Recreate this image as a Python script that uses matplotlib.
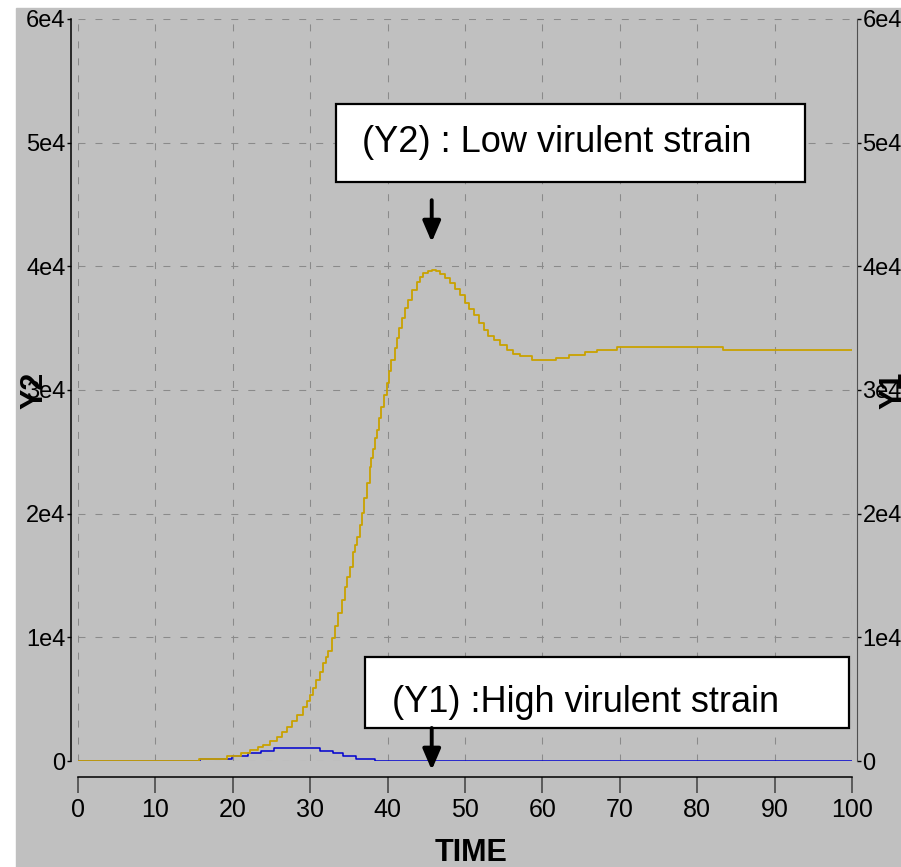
import matplotlib
matplotlib.use("Agg")
import matplotlib.pyplot as plt
from matplotlib.patches import Rectangle

plt.rcParams["font.family"] = ["Liberation Sans Narrow", "Liberation Sans", "DejaVu Sans"]

# axis ticks
x_ticks = [0, 10, 20, 30, 40, 50, 60, 70, 80, 90, 100]
y_ticks = [0, 10000, 20000, 30000, 40000, 50000, 60000]
y_tick_labels = ["0", "1e4", "2e4", "3e4", "4e4", "5e4", "6e4"]

# Y1 : high virulent strain (step values)
y1_time = [0, 15.7, 19.9, 22.0, 23.7, 25.3, 31.3, 32.9, 34.3, 35.9, 38.4, 100]
y1_value = [0, 190, 400, 620, 830, 1060, 830, 620, 400, 190, 0, 0]

# Y2 : low virulent strain
y2_time = [0, 15.6, 19.3, 21.0, 22.2, 23.3, 23.9, 24.8, 25.7, 26.4, 27.0, 27.7,
           28.3, 29.1, 29.6, 30.0, 30.4, 30.8, 31.3, 31.7, 32.0, 32.3, 32.8, 33.2,
           33.6, 34.1, 34.5, 34.8, 35.1, 35.5, 35.8, 36.0, 36.4, 36.7, 37.0, 37.3,
           37.7, 37.9, 38.1, 38.4, 38.6, 38.9, 39.2, 39.5, 39.9, 40.2, 40.5, 40.9,
           41.2, 41.5, 41.8, 42.2, 42.7, 43.2, 43.8, 44.2, 44.6, 45.2, 45.7, 46.3,
           46.8, 47.4, 48.1, 48.7, 49.4, 50.0, 50.5, 51.1, 51.8, 52.4, 53.0, 53.7,
           54.5, 55.4, 56.2, 57.1, 58.6, 61.8, 63.5, 65.5, 67.1, 69.6, 83.3, 100]
y2_value = [0, 160, 400, 620, 890, 1160, 1290, 1600, 1960, 2350, 2770, 3230,
            3720, 4390, 4850, 5340, 5900, 6550, 7200, 7900, 8400, 8900, 9920, 10900,
            11940, 13000, 14090, 14900, 15710, 16900, 17500, 18130, 19100, 20070, 21240, 22450,
            23800, 24500, 25200, 26100, 26760, 27700, 28640, 29600, 30530, 31500, 32420, 33400,
            34170, 35000, 35790, 36600, 37270, 38050, 38750, 39150, 39480, 39600, 39690, 39600,
            39420, 39050, 38620, 38150, 37670, 37000, 36550, 36050, 35400, 34840, 34400, 34030,
            33600, 33230, 32950, 32740, 32420, 32600, 32820, 33040, 33250, 33470, 33250, 33250]

arrow_time = 45.7

fig = plt.figure(figsize=(9.01, 8.67), dpi=100)
fig.patches.append(Rectangle((16 / 901, 0), 1 - 16 / 901, 859 / 867,
                             transform=fig.transFigure, color="#c0c0c0", zorder=-5))

ax = fig.add_axes([78 / 901, 106 / 867, 774 / 901, 742 / 867])
ax.set_facecolor("none")

ax.plot(y1_time, y1_value, drawstyle="steps-post", color="#0000d0", lw=1.1, zorder=3)
ax.plot(y2_time, y2_value, drawstyle="steps-post", color="#c9a200", lw=1.3, zorder=4)

ax.set_xlim(0, 100)
ax.set_ylim(0, 60000)
ax.set_xticks(x_ticks)
ax.set_xticklabels([str(t) for t in x_ticks])
ax.set_yticks(y_ticks)
ax.set_yticklabels(y_tick_labels)

ax.grid(True, color="#8a8a8a", lw=0.75, linestyle=(0, (6.7, 9.6)))
ax.set_axisbelow(True)

ax.spines["top"].set_visible(False)
ax.spines["left"].set_position(("outward", 5))
ax.spines["bottom"].set_position(("outward", 11.5))
ax.spines["right"].set_position(("outward", 3.6))
ax.spines["left"].set_bounds(0, 60000)
ax.spines["bottom"].set_bounds(0, 100)
ax.spines["right"].set_bounds(0, 60000)
ax.spines["left"].set_linewidth(1.1)
ax.spines["bottom"].set_linewidth(1.1)
ax.spines["right"].set_color("#505050")

ax.tick_params(axis="x", direction="out", length=11.5, width=1.1, color="#404040",
               pad=3.6, labelsize=18)
ax.tick_params(axis="y", direction="out", length=3, width=1, pad=1, labelsize=17,
               right=True, labelright=True)

# annotation boxes
ax.add_patch(Rectangle((0.3333, 0.7803), 0.606, 0.1051, transform=ax.transAxes,
                       fc="white", ec="black", lw=1.6, zorder=6, clip_on=False))
ax.text(0.3669, 0.8208, "(Y2) : Low virulent strain", transform=ax.transAxes,
        fontsize=26, family="Liberation Sans", va="baseline", zorder=7)
ax.add_patch(Rectangle((0.3708, 0.0445), 0.6253, 0.0957, transform=ax.transAxes,
                       fc="white", ec="black", lw=1.6, zorder=6, clip_on=False))
ax.text(0.4057, 0.066, "(Y1) :High virulent strain", transform=ax.transAxes,
        fontsize=26, family="Liberation Sans", va="baseline", zorder=7)

arrow_props = dict(arrowstyle="-|>,head_length=0.42,head_width=0.18", color="black",
                   lw=2.8, mutation_scale=30, shrinkA=0, shrinkB=0)
ax.annotate("", xy=(arrow_time, 41960), xytext=(arrow_time, 45350),
            arrowprops=arrow_props, annotation_clip=False, zorder=8)
ax.annotate("", xy=(arrow_time, -730), xytext=(arrow_time, 2670),
            arrowprops=arrow_props, annotation_clip=False, zorder=8)

fig.text(34 / 901, 1 - 390 / 867, "Y2", rotation=90, fontsize=22, fontweight="bold",
         ha="center", va="center")
fig.text(893 / 901, 1 - 390 / 867, "Y1", rotation=90, fontsize=22, fontweight="bold",
         ha="center", va="center")
fig.text(471 / 901, 1 - 838 / 867, "TIME", fontsize=22, fontweight="bold",
         ha="center", va="top")

fig.savefig("out.png", dpi=100, facecolor="white")
